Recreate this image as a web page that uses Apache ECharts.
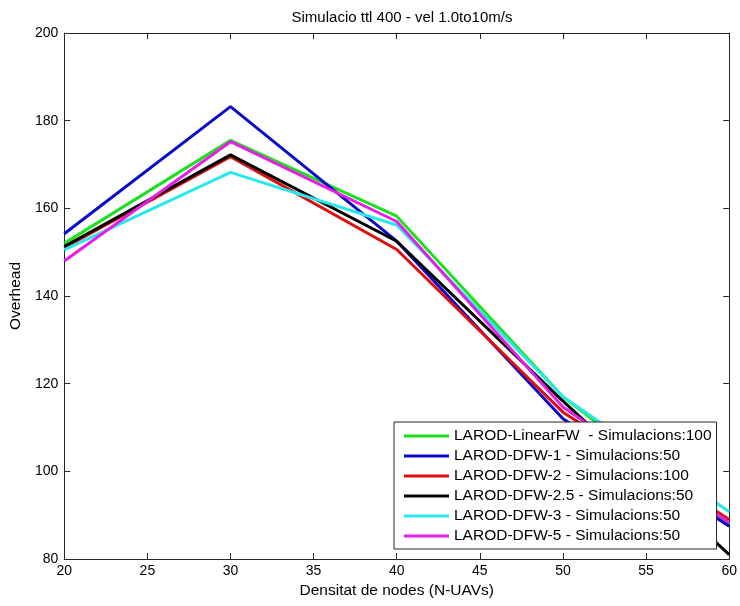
<!DOCTYPE html>
<html>
<head>
<meta charset="utf-8">
<script src="https://cdn.jsdelivr.net/npm/echarts@6/dist/echarts.min.js"></script>
<style>html,body{margin:0;padding:0;background:#fff}#c{width:740px;height:606px}</style>
</head>
<body>
<div id="c"></div>
<script>
const xValues = [20, 30, 40, 50, 60];
const seriesNames = [
  'LAROD-LinearFW  - Simulacions:100',
  'LAROD-DFW-1 - Simulacions:50',
  'LAROD-DFW-2 - Simulacions:100',
  'LAROD-DFW-2.5 - Simulacions:50',
  'LAROD-DFW-3 - Simulacions:50',
  'LAROD-DFW-5 - Simulacions:50'
];
const linearFW = [152, 175.5, 158.2, 117, 88];
const dfw1 = [154.2, 183.2, 152.5, 112, 87.5];
const dfw2 = [151, 171.8, 150.6, 113.5, 89];
const dfw25 = [151.3, 172.2, 152.5, 116, 81];
const dfw3 = [150.5, 168.2, 156.2, 117, 90.8];
const dfw5 = [148, 175.2, 157, 114.7, 88.3];
const seriesValues = [linearFW, dfw1, dfw2, dfw25, dfw3, dfw5];
const colors = ['#1ee01e', '#0a0acc', '#dd1010', '#000000', '#2ae8ea', '#e61ee6'];
const xTicks = [20, 25, 30, 35, 40, 45, 50, 55, 60];
const yTicks = [80, 100, 120, 140, 160, 180, 200];

const FONT = "'Liberation Sans', Arial, sans-serif";
const chart = echarts.init(document.getElementById('c'));
const axisCol = '#262626';

const series = seriesNames.map((n, i) => ({
  name: n,
  type: 'line',
  data: xValues.map((x, j) => [x, seriesValues[i][j]]),
  showSymbol: false,
  symbol: 'none',
  lineStyle: { width: 3, color: colors[i] },
  itemStyle: { color: colors[i] },
  color: colors[i],
  clip: true,
  z: 2,
  zlevel: 0
}));

chart.setOption({
  animation: false,
  backgroundColor: '#fff',
  title: {
    text: 'Simulacio ttl 400 - vel 1.0to10m/s',
    left: 397, textAlign: 'center', top: 5,
    textStyle: { fontFamily: FONT, fontSize: 15, fontWeight: 'normal', color: '#000' }
  },
  grid: { left: 63, right: 9, top: 33, bottom: 47, show: false },
  legend: {
    orient: 'vertical',
    left: 394, top: 422,
    z: 20, zlevel: 1,
    backgroundColor: '#fff',
    borderColor: '#222',
    borderWidth: 1,
    borderRadius: 0,
    padding: [6, 5, 5, 10],
    itemGap: 4,
    itemWidth: 45,
    itemHeight: 3,
    icon: 'rect',
    textStyle: { fontFamily: FONT, fontSize: 15.5, color: '#000' },
    data: seriesNames
  },
  xAxis: [{
    type: 'value', min: 20, max: 60, interval: 5,
    name: 'Densitat de nodes (N-UAVs)', nameLocation: 'middle', nameGap: 24,
    nameTextStyle: { fontFamily: FONT, fontSize: 15.5, color: '#000' },
    axisLine: { show: true, lineStyle: { color: axisCol, width: 1 } },
    axisTick: { show: true, inside: true, length: 6, lineStyle: { color: axisCol } },
    axisLabel: { fontFamily: FONT, fontSize: 14, color: '#000', margin: 5 },
    splitLine: { show: false }
  }, {
    type: 'value', min: 20, max: 60, interval: 5, position: 'top',
    axisLine: { show: true, lineStyle: { color: axisCol, width: 1 } },
    axisTick: { show: true, inside: true, length: 6, lineStyle: { color: axisCol } },
    axisLabel: { show: false }, splitLine: { show: false }
  }],
  yAxis: [{
    type: 'value', min: 80, max: 200, interval: 20,
    name: 'Overhead', nameLocation: 'middle', nameGap: 35, nameRotate: 90,
    nameTextStyle: { fontFamily: FONT, fontSize: 15.5, color: '#000' },
    axisLine: { show: true, lineStyle: { color: axisCol, width: 1 } },
    axisTick: { show: true, inside: true, length: 6, lineStyle: { color: axisCol } },
    axisLabel: { fontFamily: FONT, fontSize: 14, color: '#000', margin: 6 },
    splitLine: { show: false }
  }, {
    type: 'value', min: 80, max: 200, interval: 20, position: 'right',
    axisLine: { show: true, lineStyle: { color: axisCol, width: 1 } },
    axisTick: { show: true, inside: true, length: 6, lineStyle: { color: axisCol } },
    axisLabel: { show: false }, splitLine: { show: false }
  }],
  series: series
});
</script>
</body>
</html>
